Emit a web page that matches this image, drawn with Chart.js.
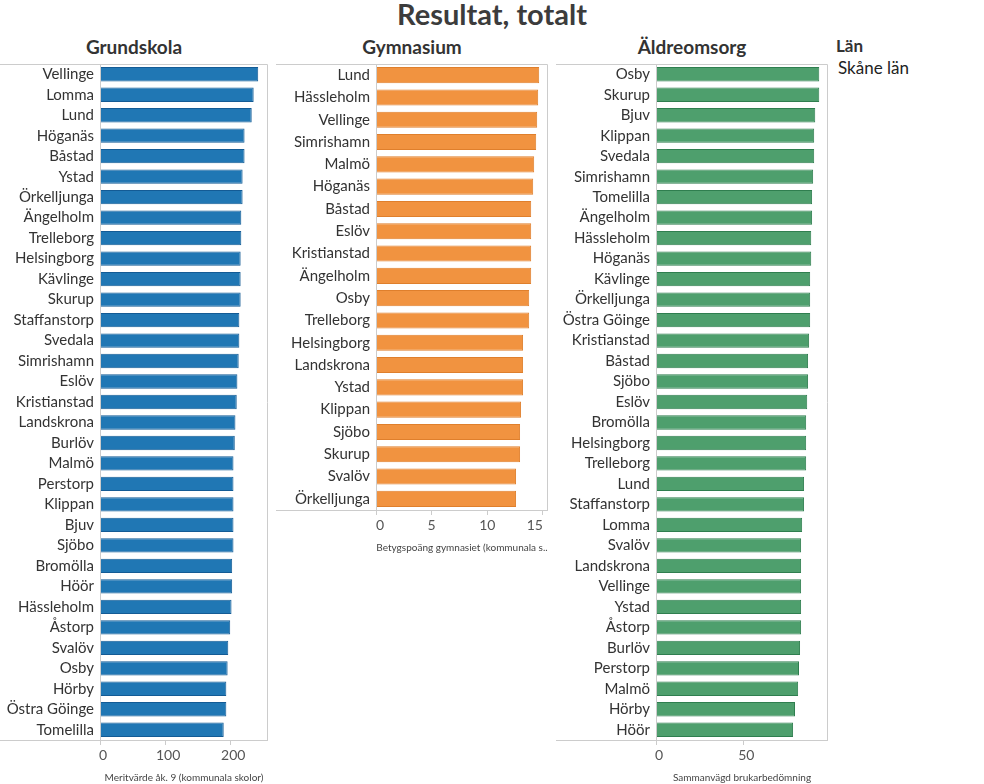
<!DOCTYPE html>
<html>
<head>
<meta charset="utf-8">
<script src="https://cdn.jsdelivr.net/npm/chart.js@4"></script>
<style>
    body { margin: 0; width: 984px; height: 784px; position: relative; background: #fff; font-family: Lato, sans-serif; overflow: hidden; }
    #title { position: absolute; left: 0; top: -3px; width: 984px; text-align: center; font-weight: bold; font-size: 29px; line-height: 34px; color: #3c3c3c; }
    .ptitle { position: absolute; top: 36px; font-weight: bold; font-size: 19px; line-height: 22px; color: #333; text-align: center; }
    .panel { position: absolute; }
    #legendTitle { position: absolute; left: 836px; top: 36px; font-weight: bold; font-size: 17px; line-height: 20px; color: #333; }
    #legendItem { position: absolute; left: 838px; top: 58px; font-size: 17px; line-height: 20px; color: #222; }
</style>
</head>
<body>
<div id="title">Resultat, totalt</div>
<div class="ptitle" style="left:0;width:268px">Grundskola</div>
<div class="ptitle" style="left:276px;width:272px">Gymnasium</div>
<div class="ptitle" style="left:556px;width:272px">Äldreomsorg</div>
<div id="legendTitle">Län</div>
<div id="legendItem">Skåne län</div>

<div class="panel" style="left:0;top:63px;width:268px;height:721px"><canvas id="grundChart"></canvas></div>
<div class="panel" style="left:276px;top:63px;width:272px;height:491px"><canvas id="gymChart"></canvas></div>
<div class="panel" style="left:556px;top:63px;width:272px;height:721px"><canvas id="aldreChart"></canvas></div>

<script>
// Grundskola - meritvärde åk. 9
const grundLabels = ['Vellinge', 'Lomma', 'Lund', 'Höganäs', 'Båstad', 'Ystad', 'Örkelljunga', 'Ängelholm',
    'Trelleborg', 'Helsingborg', 'Kävlinge', 'Skurup', 'Staffanstorp', 'Svedala', 'Simrishamn', 'Eslöv',
    'Kristianstad', 'Landskrona', 'Burlöv', 'Malmö', 'Perstorp', 'Klippan', 'Bjuv', 'Sjöbo', 'Bromölla',
    'Höör', 'Hässleholm', 'Åstorp', 'Svalöv', 'Osby', 'Hörby', 'Östra Göinge', 'Tomelilla'];
const grundValues = [243, 236, 233, 222, 222, 219, 219, 217, 217, 216, 216, 216, 214, 214, 213, 211,
    210, 208, 207, 205, 205, 205, 205, 205, 203, 203, 202, 200, 197, 196, 194, 194, 190];
const grundTicks = [0, 100, 200];

// Gymnasium - betygspoäng
const gymLabels = ['Lund', 'Hässleholm', 'Vellinge', 'Simrishamn', 'Malmö', 'Höganäs', 'Båstad', 'Eslöv',
    'Kristianstad', 'Ängelholm', 'Osby', 'Trelleborg', 'Helsingborg', 'Landskrona', 'Ystad', 'Klippan',
    'Sjöbo', 'Skurup', 'Svalöv', 'Örkelljunga'];
const gymValues = [14.67, 14.58, 14.49, 14.4, 14.22, 14.13, 13.95, 13.95, 13.95, 13.95, 13.77, 13.77,
    13.22, 13.22, 13.22, 13.04, 12.95, 12.95, 12.59, 12.59];
const gymTicks = [0, 5, 10, 15];

// Äldreomsorg - sammanvägd brukarbedömning
const aldreLabels = ['Osby', 'Skurup', 'Bjuv', 'Klippan', 'Svedala', 'Simrishamn', 'Tomelilla', 'Ängelholm',
    'Hässleholm', 'Höganäs', 'Kävlinge', 'Örkelljunga', 'Östra Göinge', 'Kristianstad', 'Båstad', 'Sjöbo',
    'Eslöv', 'Bromölla', 'Helsingborg', 'Trelleborg', 'Lund', 'Staffanstorp', 'Lomma', 'Svalöv',
    'Landskrona', 'Vellinge', 'Ystad', 'Åstorp', 'Burlöv', 'Perstorp', 'Malmö', 'Hörby', 'Höör'];
const aldreValues = [93.5, 93.5, 91.2, 90.6, 90.6, 90.0, 89.4, 89.4, 88.9, 88.9, 88.3, 88.3, 88.3, 87.7,
    87.1, 87.1, 86.6, 86.0, 86.0, 86.0, 84.8, 84.8, 83.7, 83.1, 83.1, 83.1, 83.1, 83.1, 82.5, 81.9,
    81.4, 79.6, 78.5];
const aldreTicks = [0, 50];

const frameColor = '#cccccc';

// ram runt plotytan + linjer som går ut under etiketterna
const framePlugin = {
    id: 'frame',
    afterDraw(chart) {
        const { ctx, chartArea: a } = chart;
        ctx.save();
        ctx.strokeStyle = frameColor;
        ctx.lineWidth = 1;
        ctx.beginPath();
        ctx.moveTo(0, a.top + 0.5);
        ctx.lineTo(a.right - 0.5, a.top + 0.5);
        ctx.lineTo(a.right - 0.5, a.bottom + 0.5);
        ctx.moveTo(0, a.bottom + 0.5);
        ctx.lineTo(a.right, a.bottom + 0.5);
        ctx.moveTo(a.left + 0.5, a.top);
        ctx.lineTo(a.left + 0.5, a.bottom + 4);
        ctx.stroke();
        ctx.restore();
    }
};

function makeChart(id, labels, values, ticks, max, color, border, axisTitle, barPct, tickAlign, tickShift) {
    return new Chart(document.getElementById(id), {
        type: 'bar',
        data: {
            labels: labels,
            datasets: [{
                data: values,
                backgroundColor: color,
                borderColor: border,
                borderWidth: 1,
                barPercentage: barPct,
                categoryPercentage: 1
            }]
        },
        options: {
            indexAxis: 'y',
            responsive: true,
            maintainAspectRatio: false,
            animation: false,
            layout: { padding: { top: 1, left: 0, right: 0, bottom: 0 } },
            plugins: { legend: { display: false }, tooltip: { enabled: false } },
            scales: {
                x: {
                    min: 0,
                    max: max,
                    afterBuildTicks: (scale) => { scale.ticks = ticks.map(v => ({ value: v })); },
                    afterFit: (scale) => { scale.height = 44; scale.paddingLeft = 0; scale.paddingRight = 0; },
                    grid: { drawOnChartArea: false, tickLength: 5, color: frameColor },
                    border: { display: false },
                    ticks: {
                        color: '#555', font: { family: 'Lato', size: 14 }, padding: 2, maxRotation: 0,
                        align: tickAlign, labelOffset: tickShift
                    },
                    title: {
                        display: true,
                        text: axisTitle,
                        color: '#444',
                        font: { family: 'Lato', size: 10 },
                        padding: { top: 2, bottom: 0 }
                    }
                },
                y: {
                    // fast bredd på etikettkolumnen, ingen extra luft upptill
                    afterFit: (scale) => { scale.width = 100; scale.paddingTop = 0; scale.paddingBottom = 0; },
                    grid: { display: false, drawTicks: false },
                    border: { display: false },
                    ticks: { color: '#333', font: { family: 'Lato', size: 15 }, padding: 6, autoSkip: false }
                }
            }
        },
        plugins: [framePlugin]
    });
}

makeChart('grundChart', grundLabels, grundValues, grundTicks, 258,
    '#2077b4', '#135b95', 'Meritvärde åk. 9 (kommunala skolor)', 0.7, 'center', 3);
makeChart('gymChart', gymLabels, gymValues, gymTicks, 15.46,
    '#f19340', '#df7f2c', 'Betygspoäng gymnasiet (kommunala s..', 0.72, 'inner', 0);
makeChart('aldreChart', aldreLabels, aldreValues, aldreTicks, 98.5,
    '#4e9f6d', '#2f7e4f', 'Sammanvägd brukarbedömning', 0.7, 'center', 3);
</script>
</body>
</html>
